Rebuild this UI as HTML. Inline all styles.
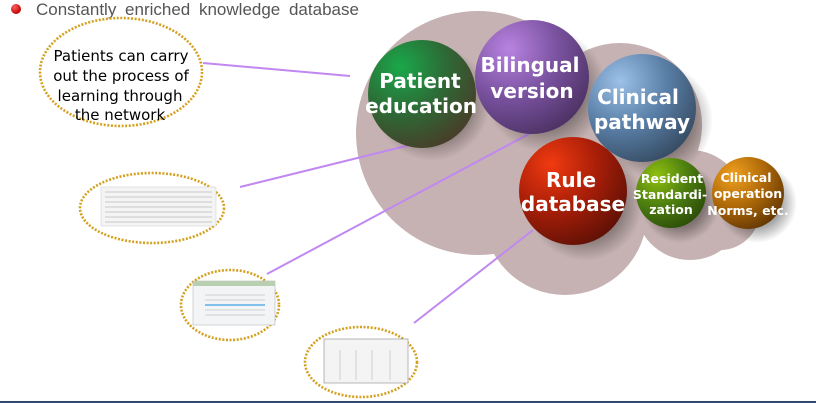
<!DOCTYPE html>
<html><head><meta charset="utf-8"><style>
html,body{margin:0;padding:0;background:#fff;}
svg{display:block;}
.b{font-family:"DejaVu Sans","Liberation Sans",sans-serif;font-weight:bold;fill:#fff;text-anchor:middle;}
</style></head><body>
<svg width="816" height="403" viewBox="0 0 816 403" xmlns="http://www.w3.org/2000/svg">
<defs>
<radialGradient id="g" cx="0.3" cy="0.25" r="0.85"><stop offset="0" stop-color="#1aa84a"/><stop offset="0.5" stop-color="#2d6a36"/><stop offset="1" stop-color="#4a3a28"/></radialGradient>
<radialGradient id="p" cx="0.3" cy="0.25" r="0.85"><stop offset="0" stop-color="#b883e0"/><stop offset="0.5" stop-color="#7a52a0"/><stop offset="1" stop-color="#4a3060"/></radialGradient>
<radialGradient id="bl" cx="0.3" cy="0.25" r="0.85"><stop offset="0" stop-color="#9cc0e8"/><stop offset="0.5" stop-color="#5a80a8"/><stop offset="1" stop-color="#34485e"/></radialGradient>
<radialGradient id="r" cx="0.3" cy="0.25" r="0.85"><stop offset="0" stop-color="#f03a10"/><stop offset="0.5" stop-color="#a81e08"/><stop offset="1" stop-color="#5a1006"/></radialGradient>
<radialGradient id="lg" cx="0.3" cy="0.25" r="0.85"><stop offset="0" stop-color="#90c010"/><stop offset="0.5" stop-color="#4e8010"/><stop offset="1" stop-color="#2a4a08"/></radialGradient>
<radialGradient id="o" cx="0.3" cy="0.25" r="0.85"><stop offset="0" stop-color="#f0a020"/><stop offset="0.5" stop-color="#b06a08"/><stop offset="1" stop-color="#5e3404"/></radialGradient>
<radialGradient id="sh" cx="0.5" cy="0.5" r="0.5"><stop offset="0.6" stop-color="#000" stop-opacity="0.35"/><stop offset="1" stop-color="#000" stop-opacity="0"/></radialGradient>
<radialGradient id="rd" cx="0.35" cy="0.3" r="0.7"><stop offset="0" stop-color="#ff6060"/><stop offset="1" stop-color="#c00000"/></radialGradient>
</defs>
<circle cx="16" cy="9" r="5" fill="url(#rd)"/>
<text x="36" y="15" font-family="Liberation Sans, sans-serif" font-size="17" fill="#555" word-spacing="4">Constantly enriched knowledge database</text>
<g fill="#c6b2b2">
<circle cx="478" cy="133" r="122"/>
<circle cx="565" cy="213" r="82"/>
<circle cx="620" cy="125" r="82"/>
<circle cx="690" cy="205" r="55"/>
<circle cx="720" cy="210" r="40"/>
</g>
<g stroke="#c088f0" stroke-width="2">
<line x1="203" y1="63" x2="350" y2="76"/>
<line x1="240" y1="187" x2="410" y2="145"/>
<line x1="267" y1="274" x2="540" y2="128"/>
<line x1="414" y1="323" x2="533" y2="230"/>
</g>
<circle cx="432" cy="103" r="58" fill="url(#sh)"/>
<circle cx="545" cy="90" r="62" fill="url(#sh)"/>
<circle cx="655" cy="120" r="58" fill="url(#sh)"/>
<circle cx="585" cy="203" r="58" fill="url(#sh)"/>
<circle cx="680" cy="203" r="40" fill="url(#sh)"/>
<circle cx="757" cy="203" r="40" fill="url(#sh)"/>
<circle cx="422" cy="94" r="54" fill="url(#g)"/>
<circle cx="532" cy="77" r="57" fill="url(#p)"/>
<circle cx="642" cy="108" r="54" fill="url(#bl)"/>
<circle cx="573" cy="191" r="54" fill="url(#r)"/>
<circle cx="671" cy="193" r="35" fill="url(#lg)"/>
<circle cx="748" cy="193" r="36" fill="url(#o)"/>
<g class="b">
<text x="420" y="88" font-size="20">Patient</text>
<text x="421" y="113" font-size="20">education</text>
<text x="530" y="72" font-size="20">Bilingual</text>
<text x="532" y="98" font-size="20">version</text>
<text x="638" y="104" font-size="20">Clinical</text>
<text x="642" y="129" font-size="20">pathway</text>
<text x="571" y="187" font-size="20">Rule</text>
<text x="573" y="211" font-size="20">database</text>
<text x="672" y="183" font-size="12.5">Resident</text>
<text x="670" y="199" font-size="12.5">Standardi-</text>
<text x="671" y="214" font-size="12.5">zation</text>
<text x="746" y="182" font-size="12.5">Clinical</text>
<text x="748" y="198" font-size="12.5">operation</text>
<text x="748" y="215" font-size="12.5">Norms, etc.</text>
</g>
<g fill="none" stroke="#d4a020" stroke-width="2.6" stroke-dasharray="2 1.6">
<ellipse cx="121" cy="72" rx="81" ry="54"/>
<ellipse cx="152" cy="208" rx="72" ry="35"/>
<ellipse cx="230" cy="305" rx="49" ry="35"/>
<ellipse cx="361" cy="362" rx="56" ry="35"/>
</g>
<g font-family="DejaVu Sans, sans-serif" font-size="15" text-anchor="middle" fill="#000">
<text x="121" y="61">Patients can carry</text>
<text x="121" y="81">out the process of</text>
<text x="120" y="101">learning through</text>
<text x="120" y="120">the network</text>
</g>
<g>
<rect x="101" y="187" width="115" height="39" fill="#f4f4f4" stroke="#ccc" stroke-width="0.5"/>
<g stroke="#999" stroke-width="0.6">
<line x1="105" y1="192" x2="212" y2="192"/><line x1="105" y1="197" x2="212" y2="197"/><line x1="105" y1="202" x2="212" y2="202"/><line x1="105" y1="207" x2="212" y2="207"/><line x1="105" y1="212" x2="212" y2="212"/><line x1="105" y1="217" x2="212" y2="217"/><line x1="105" y1="222" x2="212" y2="222"/>
</g>
<rect x="193" y="281" width="82" height="44" fill="#f2f4f6" stroke="#aaa" stroke-width="0.5"/>
<rect x="193" y="281" width="82" height="5" fill="#b8d0b0"/>
<line x1="205" y1="305" x2="265" y2="305" stroke="#5ab0e8" stroke-width="1.5"/>
<g stroke="#aaa" stroke-width="0.5"><line x1="205" y1="295" x2="265" y2="295"/><line x1="205" y1="300" x2="265" y2="300"/><line x1="205" y1="310" x2="265" y2="310"/><line x1="205" y1="315" x2="265" y2="315"/></g>
<rect x="324" y="339" width="84" height="44" fill="#f4f4f4" stroke="#888" stroke-width="0.6"/>
<g stroke="#aaa" stroke-width="0.5"><line x1="340" y1="350" x2="340" y2="380"/><line x1="356" y1="350" x2="356" y2="380"/><line x1="372" y1="350" x2="372" y2="380"/><line x1="390" y1="350" x2="390" y2="380"/></g>
</g>
<rect x="0" y="401" width="816" height="2" fill="#2e4a6e"/>
</svg>
</body></html>
